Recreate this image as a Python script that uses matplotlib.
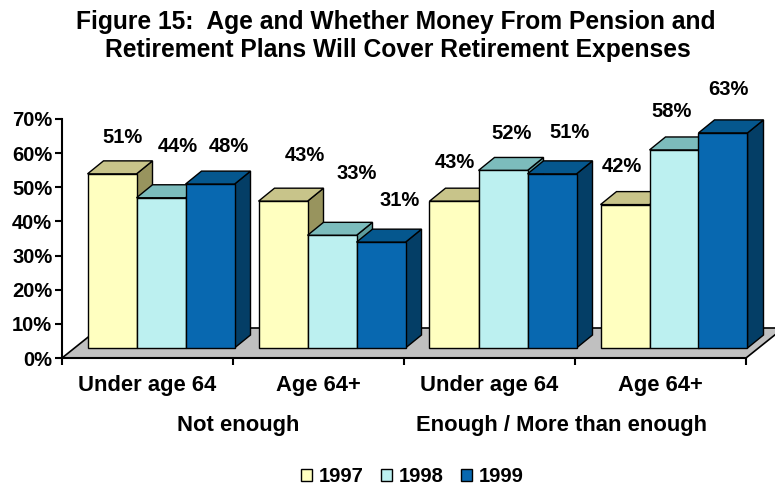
import matplotlib.pyplot as plt
from matplotlib.patches import Polygon, Rectangle, Patch

# data
categories = ["Under age 64", "Age 64+", "Under age 64", "Age 64+"]
groups = ["Not enough", "Enough / More than enough"]
years = ["1997", "1998", "1999"]
values_1997 = [51, 43, 43, 42]
values_1998 = [44, 33, 52, 58]
values_1999 = [48, 31, 51, 63]

# face colours: front, top, side
front_colors = ["#ffffc0", "#bcf0f0", "#0868b0"]
top_colors = ["#c8c48a", "#7cbcbc", "#05578e"]
side_colors = ["#98945e", "#5e9c9c", "#043e66"]

# label offsets in pixels (dx from bar centre, dy above bar top)
label_offsets = [
    [(11, 36), (17, 51), (19, 38)],
    [(22, 46), (25, 62), (19, 42)],
    [(1, 39), (9, 37), (18, 41)],
    [(-3, 38), (-2, 38), (5, 43)],
]

plt.rcParams['font.family'] = ['Liberation Sans', 'DejaVu Sans']

fig = plt.figure(figsize=(7.75, 4.87), dpi=100)
ax = fig.add_axes([62 / 775, 129 / 487, 684 / 775, 239 / 487])
ax.set_xlim(0, 4)
ax.set_ylim(0, 70)

px_x = 4 / 684    # data units per pixel, x
px_y = 70 / 239   # data units per pixel, y

# floor
fdx, fdy = 37.5 * px_x, 30 * px_y
floor = Polygon([(0, 0), (4, 0), (4 + fdx, fdy), (fdx, fdy)], closed=True,
                facecolor="#c0c0c0", edgecolor="black", lw=1.2, clip_on=False, zorder=1)
ax.add_patch(floor)

bw = 49 * px_x
off_x, base = 25.5 * px_x, 10 * px_y
ddx, ddy = 16 * px_x, 13 * px_y

series = [values_1997, values_1998, values_1999]
for i in range(len(categories)):
    for j, vals in enumerate(series):
        v = vals[i]
        x0 = i + off_x + j * bw
        top = base + v
        side = Polygon([(x0 + bw, base), (x0 + bw + ddx, base + ddy),
                        (x0 + bw + ddx, top + ddy), (x0 + bw, top)], closed=True,
                       facecolor=side_colors[j], edgecolor="black", lw=1, clip_on=False, zorder=2)
        lid = Polygon([(x0, top), (x0 + bw, top), (x0 + bw + ddx, top + ddy),
                       (x0 + ddx, top + ddy)], closed=True,
                      facecolor=top_colors[j], edgecolor="black", lw=1, clip_on=False, zorder=2)
        front = Rectangle((x0, base), bw, v, facecolor=front_colors[j],
                          edgecolor="black", lw=1, clip_on=False, zorder=2)
        ax.add_patch(side)
        ax.add_patch(lid)
        ax.add_patch(front)
        dx, dy = label_offsets[i][j]
        ax.text(x0 + bw / 2 + dx * px_x, top + dy * px_y, f"{v}%",
                ha="center", va="center", fontsize=14.5, fontweight="bold", zorder=3)

# axes styling
for s in ["top", "right"]:
    ax.spines[s].set_visible(False)
ax.spines["left"].set_linewidth(1.5)
ax.spines["bottom"].set_linewidth(1.5)
ax.set_yticks(range(0, 71, 10))
ax.set_yticklabels([f"{t}%" for t in range(0, 71, 10)], fontsize=14.5, fontweight="bold")
ax.set_xticks(range(0, 5))
ax.set_xticklabels([])
ax.tick_params(axis="both", direction="out", length=5, width=1.5, pad=2)

for i, c in enumerate(categories):
    ax.text(i + 0.5, -0.115, c, transform=ax.get_xaxis_transform(), ha="center",
            va="center", fontsize=15.8, fontweight="bold")
for x, g in zip([1.03, 2.92], groups):
    ax.text(x, -0.283, g, transform=ax.get_xaxis_transform(), ha="center",
            va="center", fontsize=15.8, fontweight="bold")

fig.text(0.511, 1 - 29 / 487, "Figure 15:  Age and Whether Money From Pension and",
         ha="center", va="baseline", fontsize=17.7, fontweight="bold")
fig.text(0.514, 1 - 57 / 487, "Retirement Plans Will Cover Retirement Expenses",
         ha="center", va="baseline", fontsize=17.7, fontweight="bold")

handles = [Patch(facecolor=front_colors[k], edgecolor="black", label=years[k]) for k in range(3)]
fig.legend(handles=handles, loc="center", bbox_to_anchor=(0.532, 1 - 477 / 487), ncol=3,
           frameon=False, handlelength=0.55, handleheight=0.55, handletextpad=0.3,
           columnspacing=0.9, prop={"size": 14.5, "weight": "bold"})

fig.savefig("out.png", dpi=100)
